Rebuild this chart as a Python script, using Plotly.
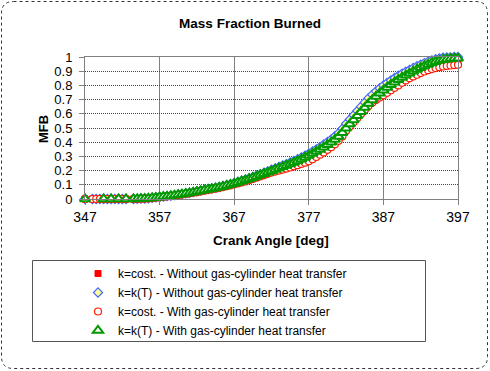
import plotly.graph_objects as go

W, H = 490, 371
ML, MR, MT, MB = 85, 32, 57, 172

crank_angle = [347, 347.5, 348, 348.5, 349, 349.5, 350, 350.5, 351, 351.5, 352, 352.5, 353,
               353.5, 354, 354.5, 355, 355.5, 356, 356.5, 357, 357.5, 358,
               358.5, 359, 359.5, 360, 360.5, 361, 361.5, 362, 362.5, 363,
               363.5, 364, 364.5, 365, 365.5, 366, 366.5, 367, 367.5, 368,
               368.5, 369, 369.5, 370, 370.5, 371, 371.5, 372, 372.5, 373,
               373.5, 374, 374.5, 375, 375.5, 376, 376.5, 377, 377.5, 378,
               378.5, 379, 379.5, 380, 380.5, 381, 381.5, 382, 382.5, 383,
               383.5, 384, 384.5, 385, 385.5, 386, 386.5, 387, 387.5, 388,
               388.5, 389, 389.5, 390, 390.5, 391, 391.5, 392, 392.5, 393,
               393.5, 394, 394.5, 395, 395.5, 396, 396.5, 397]

# k=cost. - Without gas-cylinder heat transfer
mfb_kcost_noht = [0, None, 0, 0, 0, 0, 0, 0, 0, 0, 0, 0, None,
    0.000, 0.001, 0.002, 0.003, 0.005, 0.007, 0.010, 0.013, 0.016, 0.019,
    0.022, 0.025, 0.029, 0.033, 0.037, 0.041, 0.046, 0.051, 0.056, 0.061,
    0.066, 0.071, 0.076, 0.081, 0.087, 0.093, 0.100, 0.107, 0.115, 0.123,
    0.131, 0.139, 0.148, 0.157, 0.166, 0.175, 0.185, 0.195, 0.205, 0.214,
    0.223, 0.232, 0.242, 0.252, 0.263, 0.275, 0.288, 0.301, 0.315, 0.329,
    0.344, 0.360, 0.376, 0.393, 0.412, 0.433, 0.460, 0.490, 0.519, 0.548,
    0.577, 0.606, 0.635, 0.663, 0.689, 0.713, 0.736, 0.757, 0.777, 0.796,
    0.814, 0.831, 0.847, 0.862, 0.876, 0.890, 0.903, 0.916, 0.928, 0.939,
    0.949, 0.958, 0.966, 0.972, 0.977, 0.980, 0.982, 0.983]

# k=k(T) - Without gas-cylinder heat transfer
mfb_kT_noht = [0, None, 0, 0, 0, 0, 0, 0, 0, 0, 0, 0, None,
    0.000, 0.001, 0.002, 0.003, 0.005, 0.008, 0.011, 0.014, 0.017, 0.020,
    0.023, 0.027, 0.031, 0.035, 0.040, 0.044, 0.049, 0.054, 0.059, 0.064,
    0.069, 0.074, 0.079, 0.085, 0.091, 0.098, 0.105, 0.113, 0.121, 0.129,
    0.137, 0.146, 0.155, 0.165, 0.175, 0.185, 0.195, 0.206, 0.216, 0.226,
    0.236, 0.246, 0.257, 0.268, 0.280, 0.293, 0.306, 0.320, 0.335, 0.350,
    0.367, 0.384, 0.402, 0.420, 0.442, 0.465, 0.495, 0.530, 0.560, 0.590,
    0.620, 0.650, 0.680, 0.710, 0.735, 0.758, 0.780, 0.800, 0.818, 0.836,
    0.852, 0.868, 0.883, 0.897, 0.910, 0.923, 0.935, 0.947, 0.957, 0.967,
    0.976, 0.984, 0.991, 0.996, 0.997, 0.998, 1.000, 1.000]

# k=cost. - With gas-cylinder heat transfer
mfb_kcost_ht = [0, None, 0, 0, 0, 0, 0, 0, 0, 0, 0, 0, None,
    0.000, 0.001, 0.002, 0.003, 0.004, 0.006, 0.009, 0.012, 0.015, 0.018,
    0.021, 0.024, 0.028, 0.032, 0.036, 0.040, 0.044, 0.048, 0.053, 0.058,
    0.063, 0.068, 0.073, 0.078, 0.084, 0.090, 0.096, 0.103, 0.110, 0.117,
    0.124, 0.132, 0.141, 0.150, 0.159, 0.168, 0.177, 0.186, 0.193, 0.200,
    0.207, 0.214, 0.222, 0.230, 0.238, 0.247, 0.256, 0.265, 0.280, 0.296,
    0.312, 0.328, 0.346, 0.365, 0.386, 0.410, 0.440, 0.480, 0.510, 0.540,
    0.570, 0.598, 0.627, 0.655, 0.677, 0.697, 0.714, 0.730, 0.748, 0.766,
    0.783, 0.800, 0.818, 0.835, 0.850, 0.863, 0.875, 0.887, 0.898, 0.907,
    0.915, 0.922, 0.928, 0.933, 0.937, 0.940, 0.943, 0.945]

# k=k(T) - With gas-cylinder heat transfer
mfb_kT_ht = [0, None, None, None, None, 0, None, 0, None, 0, None, 0, None,
    0.000, 0.001, 0.002, 0.003, 0.005, 0.007, 0.010, 0.013, 0.016, 0.019,
    0.022, 0.026, 0.030, 0.034, 0.038, 0.042, 0.047, 0.052, 0.057, 0.062,
    0.067, 0.072, 0.077, 0.082, 0.088, 0.095, 0.102, 0.109, 0.117, 0.125,
    0.133, 0.141, 0.150, 0.159, 0.169, 0.178, 0.188, 0.198, 0.208, 0.217,
    0.227, 0.236, 0.246, 0.257, 0.268, 0.280, 0.293, 0.306, 0.320, 0.334,
    0.349, 0.365, 0.382, 0.399, 0.419, 0.440, 0.467, 0.499, 0.528, 0.557,
    0.586, 0.615, 0.644, 0.672, 0.698, 0.722, 0.745, 0.766, 0.786, 0.805,
    0.823, 0.840, 0.856, 0.871, 0.885, 0.899, 0.912, 0.925, 0.937, 0.948,
    0.958, 0.967, 0.975, 0.981, 0.985, 0.988, 0.990, 0.991]

x_ticks = [347, 357, 367, 377, 387, 397]
y_ticks = [0, 0.1, 0.2, 0.3, 0.4, 0.5, 0.6, 0.7, 0.8, 0.9, 1]
y_tick_text = ["0", "0.1", "0.2", "0.3", "0.4", "0.5", "0.6", "0.7", "0.8", "0.9", "1"]

names = ["k=cost. - Without gas-cylinder heat transfer",
         "k=k(T) - Without gas-cylinder heat transfer",
         "k=cost. - With gas-cylinder heat transfer",
         "k=k(T) - With gas-cylinder heat transfer"]

FONT = "Liberation Sans, Arial, sans-serif"

fig = go.Figure()
fig.add_trace(go.Scatter(x=crank_angle, y=mfb_kcost_noht, mode="markers", name=names[0],
                         cliponaxis=False,
                         marker=dict(symbol="square", size=6, color="#FF0000",
                                     line=dict(color="#FF0000", width=1))))
fig.add_trace(go.Scatter(x=crank_angle, y=mfb_kT_noht, mode="markers", name=names[1],
                         cliponaxis=False,
                         marker=dict(symbol="diamond", size=7, color="#FFFF99",
                                     line=dict(color="#4466FF", width=1.2))))
fig.add_trace(go.Scatter(x=crank_angle, y=mfb_kcost_ht, mode="markers", name=names[2],
                         cliponaxis=False,
                         marker=dict(symbol="circle", size=7, color="#FFFFFF",
                                     line=dict(color="#FF1A00", width=1.2))))
fig.add_trace(go.Scatter(x=crank_angle, y=mfb_kT_ht, mode="markers", name=names[3],
                         cliponaxis=False,
                         marker=dict(symbol="triangle-up", size=9, color="#FFFFFF",
                                     line=dict(color="#009900", width=2))))

def px_to_paper(px, py):
    pw = W - ML - MR
    ph = H - MT - MB
    return (px - ML) / pw, 1 - (py - MT) / ph

shapes = []
# outer rounded dotted border
x0, y0 = px_to_paper(1.5, 1.5)
x1, y1 = px_to_paper(487.5, 368.5)
rx = 12 / (W - ML - MR)
ry = 12 / (H - MT - MB)
path = (f"M {x0+rx},{y0} L {x1-rx},{y0} Q {x1},{y0} {x1},{y0-ry} "
        f"L {x1},{y1+ry} Q {x1},{y1} {x1-rx},{y1} L {x0+rx},{y1} "
        f"Q {x0},{y1} {x0},{y1+ry} L {x0},{y0-ry} Q {x0},{y0} {x0+rx},{y0} Z")
shapes.append(dict(type="path", xref="paper", yref="paper", path=path,
                   line=dict(color="#333333", width=1, dash="dot")))
# legend box
lx0, ly0 = px_to_paper(32.5, 260.5)
lx1, ly1 = px_to_paper(425.5, 341.5)
shapes.append(dict(type="rect", xref="paper", yref="paper", x0=lx0, y0=ly0, x1=lx1, y1=ly1,
                   line=dict(color="#555555", width=1)))

leg_x, leg_y = px_to_paper(78, 259)
tx, ty = px_to_paper(271, 240)
yx, yy = px_to_paper(43, 129)

fig.update_layout(
    width=W, height=H,
    margin=dict(l=ML, r=MR, t=MT, b=MB, autoexpand=False),
    paper_bgcolor="white", plot_bgcolor="white",
    font=dict(family=FONT, color="#000000"),
    title=dict(text="<b>Mass Fraction Burned</b>", xref="container", yref="container",
               x=250 / W, y=1 - 23 / H, xanchor="center", yanchor="middle",
               font=dict(size=13.5, family=FONT)),
    showlegend=True,
    legend=dict(x=leg_x, y=leg_y, xanchor="left", yanchor="top",
                bgcolor="rgba(0,0,0,0)", borderwidth=0,
                font=dict(size=12, family=FONT), tracegroupgap=0),
    shapes=shapes,
    annotations=[
        dict(text="<b>Crank Angle [deg]</b>", xref="paper", yref="paper", x=tx, y=ty,
             showarrow=False, xanchor="center", yanchor="middle",
             font=dict(size=13.5, family=FONT)),
        dict(text="<b>MFB</b>", xref="paper", yref="paper", x=yx, y=yy,
             showarrow=False, xanchor="center", yanchor="middle", textangle=-90,
             font=dict(size=13, family=FONT)),
    ],
)
fig.update_xaxes(range=[347, 397], tickmode="array", tickvals=x_ticks,
                 showgrid=True, gridcolor="#808080", gridwidth=1,
                 showline=True, linecolor="#808080", mirror=True,
                 ticks="outside", ticklen=5, tickcolor="#808080",
                 tickfont=dict(size=14, family=FONT), zeroline=False)
fig.update_yaxes(range=[0, 1], tickmode="array", tickvals=y_ticks, ticktext=y_tick_text,
                 showgrid=True, gridcolor="#444444", gridwidth=1, griddash="1px,1px",
                 showline=True, linecolor="#808080", mirror=True,
                 ticks="outside", ticklen=5, tickcolor="#808080", ticklabelstandoff=4,
                 tickfont=dict(size=13, family=FONT), zeroline=False)

fig.write_html("out.html", config={"displayModeBar": False},
               post_script="document.body.style.margin='0';")
